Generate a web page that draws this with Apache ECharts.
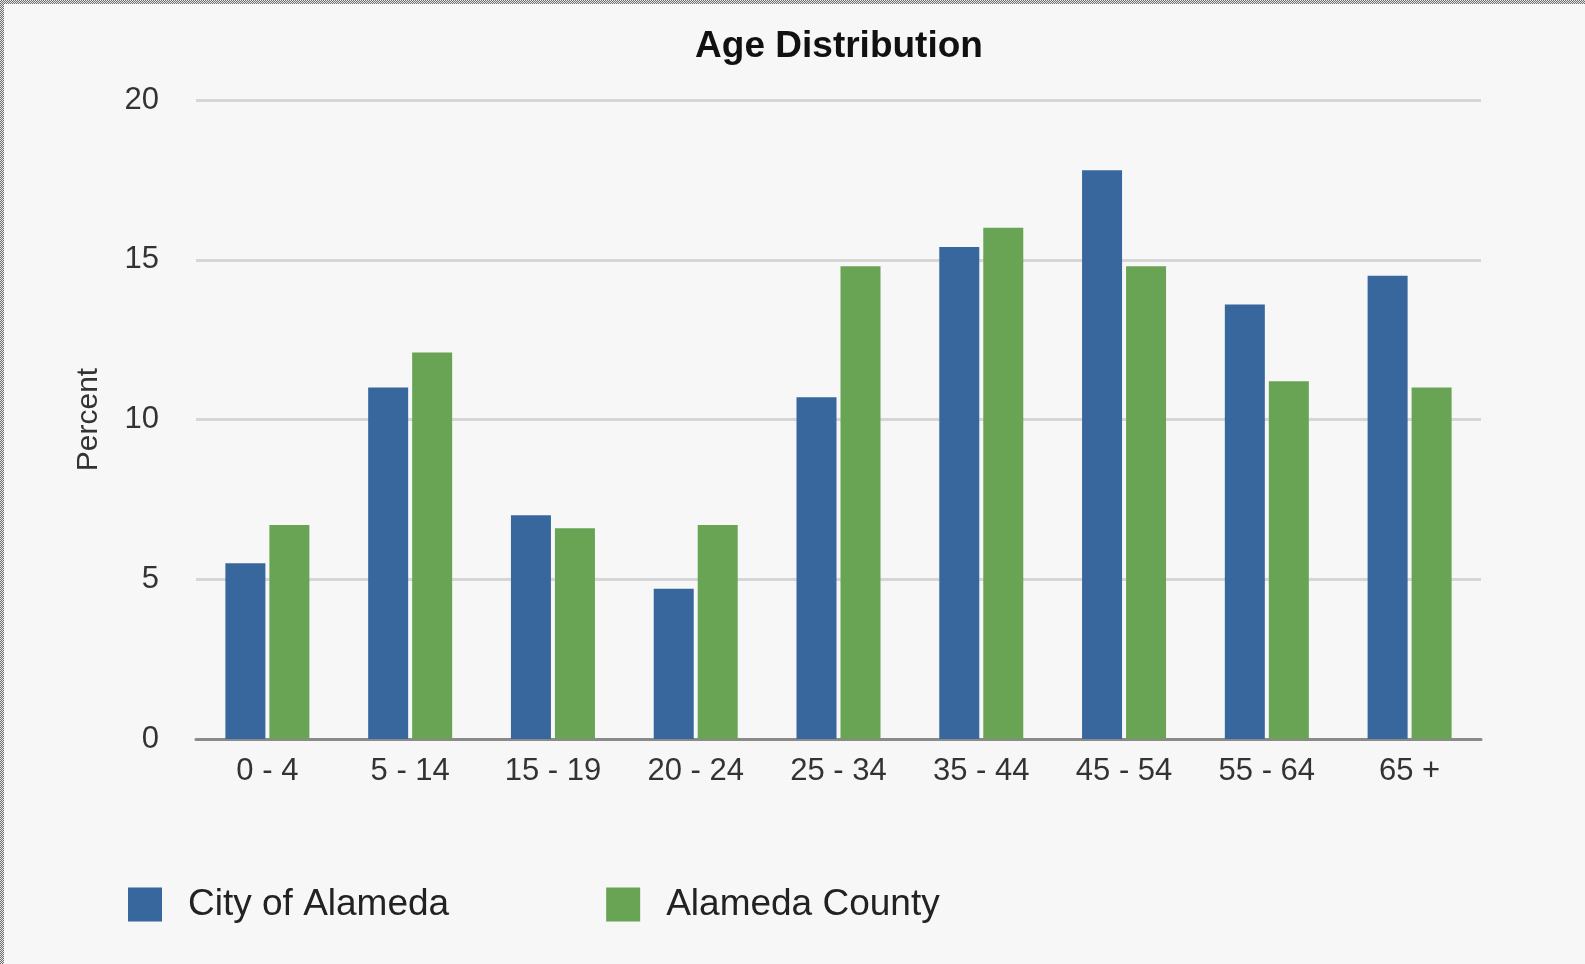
<!DOCTYPE html>
<html>
<head>
<meta charset="utf-8">
<title>Age Distribution</title>
<script src="https://cdn.jsdelivr.net/npm/echarts@6/dist/echarts.min.js"></script>
<style>
  html, body { margin: 0; padding: 0; background: #f7f7f7; }
  #wrap { position: relative; width: 1585px; height: 964px; overflow: hidden; }
  #chart { position: absolute; left: 0; top: 0; width: 1585px; height: 964px; }
  /* dithered frame along the top and left edges */
  .edge { position: absolute; background: repeating-conic-gradient(#6e6e6e 0 25%, #e8e8e8 0 50%) 0 0 / 2px 2px; }
  #edgeTop { left: 0; top: 0; width: 1585px; height: 4px; }
  #edgeLeft { left: 0; top: 0; width: 4px; height: 964px; }
</style>
</head>
<body>
<div id="wrap">
  <div id="chart"></div>
  <div class="edge" id="edgeTop"></div>
  <div class="edge" id="edgeLeft"></div>
</div>
<script>
// Age groups and share of population (percent)
const ageGroups = ['0 - 4', '5 - 14', '15 - 19', '20 - 24', '25 - 34', '35 - 44', '45 - 54', '55 - 64', '65 +'];
const cityOfAlameda = [5.5, 11.0, 7.0, 4.7, 10.7, 15.4, 17.8, 13.6, 14.5];
const alamedaCounty = [6.7, 12.1, 6.6, 6.7, 14.8, 16.0, 14.8, 11.2, 11.0];
const seriesNames = ['City of Alameda', 'Alameda County'];
const yTicks = { min: 0, max: 20, interval: 5 };

const FONT = '"Liberation Sans", Arial, Helvetica, sans-serif';
const BLUE = '#38679d';
const GREEN = '#69a354';

const chart = echarts.init(document.getElementById('chart'), null, { renderer: 'canvas' });

chart.setOption({
  backgroundColor: '#f7f7f7',
  animation: false,
  textStyle: { fontFamily: FONT },
  title: {
    text: 'Age Distribution',
    left: 834,
    textAlign: 'center',
    top: 23,
    textStyle: { fontFamily: FONT, fontSize: 37, fontWeight: 'bold', color: '#111' }
  },
  legend: {
    data: seriesNames,
    left: 123,
    top: 881,
    icon: 'rect',
    itemWidth: 34,
    itemHeight: 34,
    itemGap: 157,
    textStyle: { fontFamily: FONT, fontSize: 37, color: '#222', padding: [0, 0, 0, 21] }
  },
  grid: { left: 196, right: 104, top: 100, bottom: 225, containLabel: false },
  xAxis: {
    type: 'category',
    data: ageGroups,
    axisLine: { show: true, lineStyle: { color: '#8a8a8a', width: 3 } },
    axisTick: { show: false },
    axisLabel: { fontFamily: FONT, fontSize: 31, color: '#333', margin: 17 }
  },
  yAxis: {
    type: 'value',
    min: yTicks.min,
    max: yTicks.max,
    interval: yTicks.interval,
    name: 'Percent',
    nameLocation: 'middle',
    nameGap: 92,
    nameRotate: 90,
    nameTextStyle: { fontFamily: FONT, fontSize: 30, color: '#333' },
    axisLine: { show: false },
    axisTick: { show: false },
    axisLabel: { fontFamily: FONT, fontSize: 31, color: '#333', margin: 37 },
    splitLine: { show: true, lineStyle: { color: '#d6d6d6', width: 3 } }
  },
  series: [
    {
      name: seriesNames[0],
      type: 'bar',
      data: cityOfAlameda,
      barWidth: 40,
      barGap: '10%',
      itemStyle: { color: BLUE }
    },
    {
      name: seriesNames[1],
      type: 'bar',
      data: alamedaCounty,
      barWidth: 40,
      barGap: '10%',
      itemStyle: { color: GREEN }
    }
  ]
});
</script>
</body>
</html>
